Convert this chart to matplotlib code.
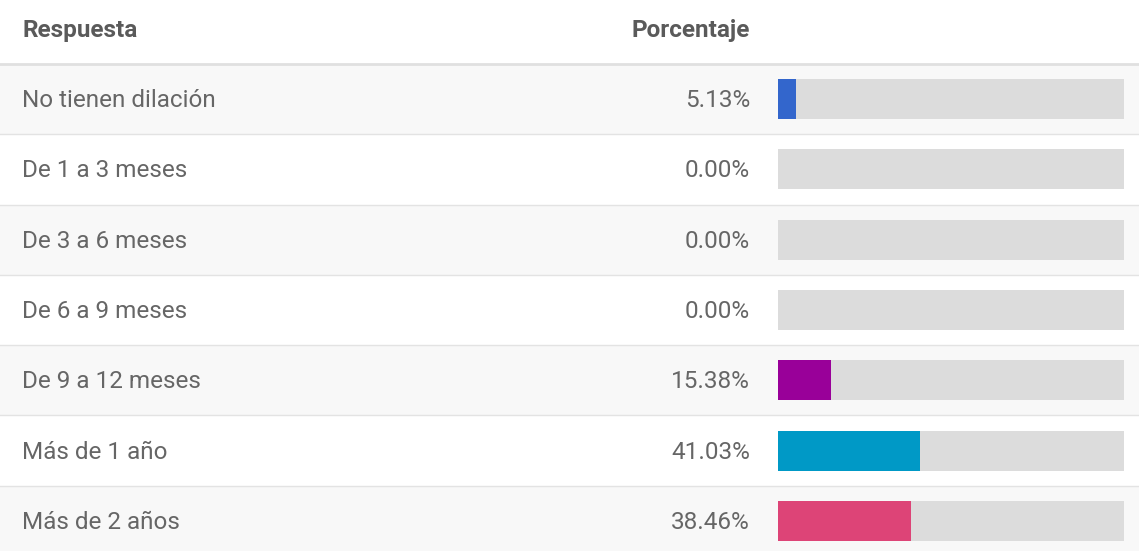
import matplotlib.pyplot as plt
from matplotlib.patches import Rectangle

plt.rcParams['font.family'] = ['Roboto', 'DejaVu Sans']

respuestas = ["No tienen dilación", "De 1 a 3 meses", "De 3 a 6 meses",
              "De 6 a 9 meses", "De 9 a 12 meses", "Más de 1 año", "Más de 2 años"]
porcentajes = [5.13, 0.00, 0.00, 0.00, 15.38, 41.03, 38.46]
colores = ["#3366cc", "#dc3912", "#ff9900", "#109618", "#990099", "#0099c6", "#dd4477"]
encabezados = ["Respuesta", "Porcentaje"]

W, H = 1139, 551
ROW = 70.3          # row height in px
HEAD = 64           # header height in px
y_top = -HEAD / ROW
y_bot = (H - HEAD) / ROW

fig = plt.figure(figsize=(W / 100, H / 100), dpi=100)
ax = fig.add_axes([0, 0, 1, 1])
ax.set_xlim(0, W)
ax.set_ylim(y_bot, y_top)
ax.axis('off')

txt = "#666666"
# header
ax.text(22, y_top / 2 - 0.02, encabezados[0], ha='left', va='center',
        fontsize=17.5, fontweight='bold', color="#5a5a5a")
ax.text(750, y_top / 2 - 0.02, encabezados[1], ha='right', va='center',
        fontsize=17.5, fontweight='bold', color="#5a5a5a")
ax.axhline(0, color="#e0e0e0", lw=2)

for i, (r, p) in enumerate(zip(respuestas, porcentajes)):
    bg = "#f8f8f8" if i % 2 == 0 else "#ffffff"
    ax.add_patch(Rectangle((0, i), W, 1, facecolor=bg, edgecolor='none', zorder=0))
    if i > 0:
        ax.axhline(i, color="#e3e3e3", lw=1)
    ax.text(22, i + 0.52, r, ha='left', va='center', fontsize=17.5, color=txt)
    ax.text(750, i + 0.52, f"{p:.2f}%", ha='right', va='center', fontsize=17.5, color=txt)

# bars
bx = fig.add_axes([778 / W, 0, (1124 - 778) / W, 1])
bx.set_xlim(0, 100)
bx.set_ylim(y_bot, y_top)
bx.axis('off')
bx.patch.set_alpha(0)
pos = list(range(len(respuestas)))
centers = [y + 0.5 for y in pos]
bx.barh(centers, [100] * len(pos), height=0.57, color="#dcdcdc", left=0)
bx.barh(centers, porcentajes, height=0.57, color=colores)

fig.savefig("out.png", dpi=100)
